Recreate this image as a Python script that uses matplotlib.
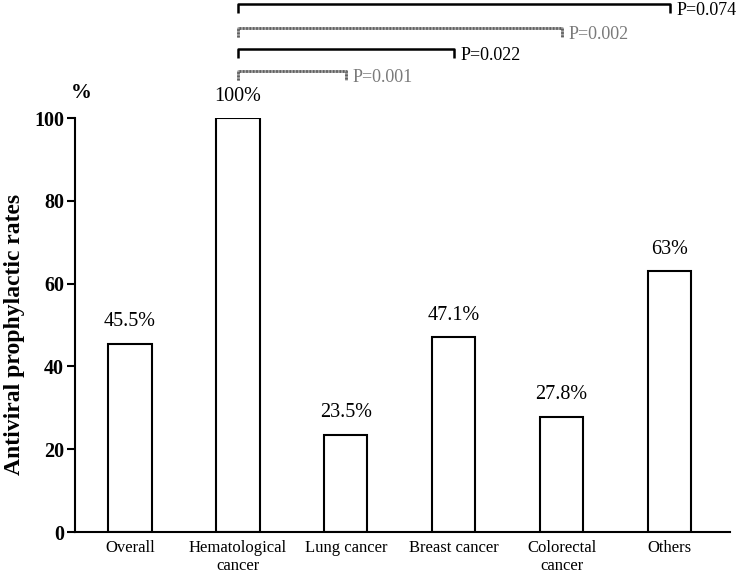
import matplotlib.pyplot as plt

categories = ['Overall', 'Hematological\ncancer', 'Lung cancer', 'Breast cancer',
              'Colorectal\ncancer', 'Others']
rates = [45.5, 100, 23.5, 47.1, 27.8, 63]
rate_labels = ['45.5%', '100%', '23.5%', '47.1%', '27.8%', '63%']

# comparisons: Hematological vs. others
comp_from = [1, 1, 1, 1]
comp_to = [2, 3, 4, 5]
comp_p = ['P=0.001', 'P=0.022', 'P=0.002', 'P=0.074']
comp_y = [111.4, 116.7, 121.7, 127.5]
comp_color = ['#7a7a7a', 'black', '#7a7a7a', 'black']

plt.rcParams['font.family'] = ['Liberation Serif', 'DejaVu Serif']

fig = plt.figure(figsize=(7.4, 5.74), dpi=100)
ax = fig.add_axes([75 / 740, 42 / 574, 655 / 740, 414 / 574])

x = list(range(len(categories)))
ax.bar(x, rates, width=0.4, color='white', edgecolor='black', linewidth=1.5)

for xi, r, lab in zip(x, rates, rate_labels):
    ax.annotate(lab, (xi, r), xytext=(0, 9), textcoords='offset points',
                ha='center', va='bottom', fontsize=14.5)

for a, b, p, y, c in zip(comp_from, comp_to, comp_p, comp_y, comp_color):
    if c == 'black':
        ax.plot([a, a, b, b], [y - 2.2, y, y, y - 2.2], color=c, lw=1.8,
                clip_on=False, solid_capstyle='butt')
    else:
        # grey, finely textured bracket
        ax.plot([a, a, b, b], [y - 2.2, y, y, y - 2.2], color='#a0a0a0', lw=2.0,
                clip_on=False, solid_capstyle='butt')
        ax.plot([a, a, b, b], [y - 2.2, y, y, y - 2.2], color='#606060', lw=2.0,
                ls=(0, (0.6, 0.6)), clip_on=False)
    ax.text(b + 0.06, y - 1.5, p, color=c, fontsize=13, ha='left', va='center')

ax.set_xlim(-0.51, 5.56)
ax.set_ylim(0, 100)
ax.set_yticks([0, 20, 40, 60, 80, 100])
ax.set_xticks(x)
ax.set_xticklabels(categories, fontsize=12, linespacing=1.1)
ax.tick_params(axis='x', length=0, pad=6)
ax.tick_params(axis='y', direction='out', length=6, width=1.5, labelsize=14.5, pad=2)
for t in ax.get_yticklabels():
    t.set_fontweight('bold')

for s in ['top', 'right']:
    ax.spines[s].set_visible(False)
for s in ['left', 'bottom']:
    ax.spines[s].set_linewidth(1.5)

ax.set_ylabel('Antiviral prophylactic rates', fontsize=17, fontweight='bold')
ax.yaxis.set_label_coords(-0.077, 0.476)
ax.text(0.009, 1.06, '%', transform=ax.transAxes, fontsize=15, fontweight='bold',
        ha='center', va='center')

fig.savefig('out.png', dpi=100)
